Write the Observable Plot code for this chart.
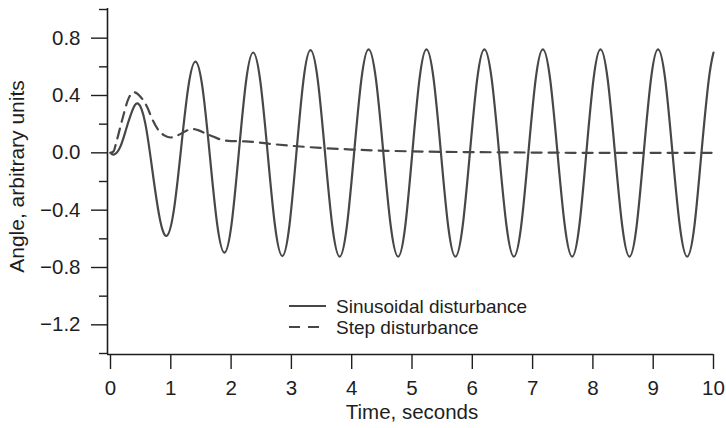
<!DOCTYPE html>
<html>
<head>
<meta charset="utf-8">
<script src="https://cdn.jsdelivr.net/npm/d3@7"></script>
<script src="https://cdn.jsdelivr.net/npm/@observablehq/plot@0.6"></script>
<style>
  html, body { margin: 0; padding: 0; background: #fff; }
  #chart { width: 726px; height: 428px; position: relative; }
</style>
</head>
<body>
<div id="chart"></div>
<script>
// ---- data ----
const sinTime = [0, 0.06, 0.16, 0.26, 0.36, 0.457, 0.575, 0.693, 0.811, 0.929, 1.05, 1.17, 1.29, 1.41, 1.53, 1.65, 1.77, 1.89,
  2.009, 2.128, 2.247, 2.366, 2.487, 2.608, 2.729, 2.85, 2.967, 3.083, 3.2, 3.317, 3.438, 3.558, 3.679, 3.80,
  3.92, 4.04, 4.16, 4.28, 4.403, 4.525, 4.648, 4.77, 4.888, 5.005, 5.123, 5.24, 5.36, 5.48, 5.60, 5.72,
  5.84, 5.96, 6.08, 6.20, 6.323, 6.445, 6.568, 6.69, 6.81, 6.93, 7.05, 7.17, 7.292, 7.413, 7.535, 7.656,
  7.774, 7.891, 8.009, 8.126, 8.246, 8.366, 8.487, 8.607, 8.725, 8.843, 8.962, 9.08, 9.20, 9.32, 9.442, 9.563,
  9.683, 9.80, 9.92, 10.0];
const sinValue = [0, -0.012, 0.04, 0.166, 0.292, 0.344, 0.209, -0.118, -0.445, -0.58, -0.402, 0.028, 0.458, 0.636, 0.441, -0.03, -0.501, -0.696,
  -0.492, 0.002, 0.496, 0.70, 0.492, -0.01, -0.512, -0.72, -0.508, 0.0, 0.508, 0.717, 0.506, -0.003, -0.512, -0.724,
  -0.512, -0.001, 0.51, 0.722, 0.51, -0.001, -0.512, -0.724, -0.512, -0.001, 0.51, 0.722, 0.51, -0.001, -0.512, -0.724,
  -0.512, -0.001, 0.51, 0.722, 0.51, -0.001, -0.512, -0.724, -0.512, -0.001, 0.51, 0.722, 0.51, -0.001, -0.512, -0.724,
  -0.512, -0.001, 0.51, 0.722, 0.51, -0.001, -0.512, -0.724, -0.512, -0.001, 0.51, 0.722, 0.51, -0.001, -0.512, -0.724,
  -0.512, -0.001, 0.505, 0.70];

const stepTime = [0, 0.05, 0.1, 0.2, 0.3, 0.39, 0.5, 0.61, 0.69, 0.8, 0.9, 0.995, 1.1, 1.355, 1.63, 1.85, 2.0, 2.24, 2.68, 3.28, 4.0, 5.0, 6.0, 7.0, 8.0, 9.0, 10.0];
const stepValue = [0, 0.01, 0.08, 0.24, 0.38, 0.423, 0.39, 0.318, 0.237, 0.156, 0.12, 0.107, 0.12, 0.166, 0.126, 0.09, 0.082, 0.08, 0.061, 0.04, 0.023, 0.01, 0.005, 0.002, 0.0, 0.0, 0.0];

const xTicks = [0, 1, 2, 3, 4, 5, 6, 7, 8, 9, 10];
const yMajorTicks = [-1.2, -0.8, -0.4, 0.0, 0.4, 0.8];
const yMinorTicks = [-1.4, -1.0, -0.6, -0.2, 0.2, 0.6, 1.0];
const legendLabels = ["Sinusoidal disturbance", "Step disturbance"];
const xLabel = "Time, seconds";
const yLabel = "Angle, arbitrary units";

const sinData = sinTime.map((t, i) => ({t, v: sinValue[i]}));
const stepData = stepTime.map((t, i) => ({t, v: stepValue[i]}));

const FONT = "'Liberation Sans', Arial, Helvetica, sans-serif";
const LINE = "#474747";
const AXIS = "#1e1e1e";

const chart = Plot.plot({
  width: 726,
  height: 428,
  marginLeft: 110,
  marginRight: 13,
  marginTop: 9,
  marginBottom: 75,
  x: {domain: [0, 10]},
  y: {domain: [-1.4, 1.0]},
  style: {fontFamily: FONT, fontSize: "20px", color: AXIS, background: "#fff"},
  marks: [
    // axis lines
    Plot.ruleX([0], {dx: -3, stroke: AXIS, strokeWidth: 1.6, insetTop: -1, insetBottom: -1}),
    Plot.ruleY([-1.4], {dy: 1, stroke: AXIS, strokeWidth: 1.6, insetLeft: -3}),
    // y axis ticks
    Plot.axisY({ticks: yMajorTicks, tickSize: 16, tickPadding: 11, dx: -3, tickFormat: d3.format(".1f"), label: null, stroke: AXIS, strokeWidth: 1.4, fontSize: 20.5}),
    Plot.axisY({ticks: yMinorTicks, tickSize: 8, dx: -3, tickFormat: () => "", label: null, stroke: AXIS, strokeWidth: 1.4}),
    // x axis ticks
    Plot.axisX({ticks: xTicks, tickSize: 15, tickPadding: 11, dy: 1, tickFormat: d3.format("d"), label: null, stroke: AXIS, strokeWidth: 1.4, fontSize: 20.5}),
    // axis titles
    Plot.text([xLabel], {frameAnchor: "bottom", dy: 59, lineAnchor: "middle", fontSize: 20.5, fill: AXIS}),
    Plot.text([yLabel], {frameAnchor: "left", dx: -93, dy: -5, rotate: -90, textAnchor: "middle", lineAnchor: "middle", fontSize: 21, fill: AXIS}),
    // series
    Plot.line(stepData, {x: "t", y: "v", curve: "monotone-x", stroke: LINE, strokeWidth: 2.2, strokeDasharray: "10,7"}),
    Plot.line(sinData, {x: "t", y: "v", curve: "natural", stroke: LINE, strokeWidth: 2.2})
  ]
});

document.getElementById("chart").appendChild(chart);

// legend inside the plot area
const svg = d3.select(chart);
const lg = svg.append("g").attr("font-family", FONT).attr("font-size", 19).attr("fill", AXIS).attr("text-anchor", "start");
const rows = [
  {label: legendLabels[0], dash: null, len: 37},
  {label: legendLabels[1], dash: "11,8", len: 30}
];
rows.forEach((r, i) => {
  const y = 306 + i * 21;
  lg.append("line").attr("x1", 289).attr("x2", 289 + r.len).attr("y1", y).attr("y2", y)
    .attr("stroke", LINE).attr("stroke-width", 2.2).attr("stroke-dasharray", r.dash);
  lg.append("text").attr("x", 336).attr("y", y).attr("dy", "0.35em").attr("text-anchor", "start").text(r.label);
});
</script>
</body>
</html>
